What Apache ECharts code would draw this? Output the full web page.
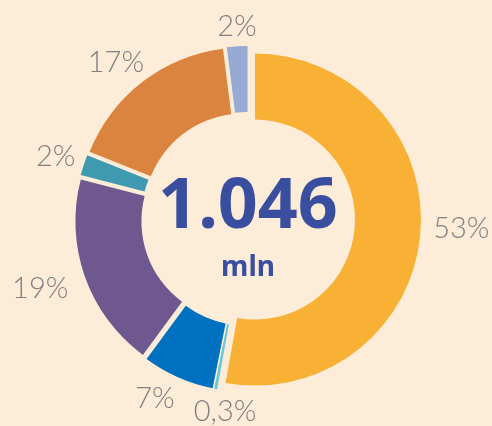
<!DOCTYPE html>
<html>
<head>
<meta charset="utf-8">
<script src="https://cdn.jsdelivr.net/npm/echarts@6/dist/echarts.min.js"></script>
<style>
  html, body { margin: 0; padding: 0; background: #FDECD8; }
  #chart { width: 492px; height: 426px; }
</style>
</head>
<body>
<div id="chart"></div>
<script>
// ---- data ----
const categories = ['Segment A', 'Segment B', 'Segment C', 'Segment D', 'Segment E', 'Segment F', 'Segment G'];
const values = [53, 0.3, 7, 19, 2, 17, 2];
const colors = ['#F8B134', '#6CC6DA', '#0070C0', '#6F578F', '#3F9AB1', '#DB843F', '#97AAD3'];
const totalValue = '1.046';
const totalUnit = 'mln';

// ---- layout ----
const CX = 248, CY = 219, R_IN = 100, R_OUT = 166, LABEL_R = 188, EXPLODE = 7;
const BG = '#FDECD8', TRANSPARENT = 'rgba(0,0,0,0)';
const sum = values.reduce((a, b) => a + b, 0);
const midAngles = [];
let acc = 0;
values.forEach(v => { midAngles.push((acc + v / 2) / sum * 2 * Math.PI); acc += v; });
const nudge = { 0: [-2, -8], 1: [18, -2], 2: [-9, -2], 3: [-4, 4], 4: [5, 0], 6: [2, 5] };

const baseSeries = {
  type: 'pie',
  radius: [R_IN, R_OUT],
  startAngle: 90,
  clockwise: true,
  silent: true,
  avoidLabelOverlap: false,
  labelLine: { show: false },
  emphasis: { disabled: true }
};

// one exploded series per slice: only slice i is painted, the others are transparent
const sliceSeries = values.map((_, i) => Object.assign({}, baseSeries, {
  center: [CX + EXPLODE * Math.sin(midAngles[i]), CY - EXPLODE * Math.cos(midAngles[i])],
  label: { show: false },
  data: values.map((v, j) => ({
    name: categories[j],
    value: v,
    itemStyle: { color: j === i ? colors[j] : TRANSPARENT }
  }))
}));

// label series (unexploded, transparent)
const labelSeries = Object.assign({}, baseSeries, {
  center: [CX, CY],
  label: {
    show: true,
    position: 'outside',
    formatter: p => String(p.value).replace('.', ',') + '%',
    color: '#808080',
    fontFamily: 'Lato, sans-serif',
    fontWeight: 300,
    fontSize: 29
  },
  labelLayout: function (params) {
    const i = params.dataIndex;
    const a = midAngles[i];
    const dx = Math.sin(a), dy = -Math.cos(a);
    const w = params.labelRect.width, h = params.labelRect.height * 0.7;
    const n = nudge[i] || [0, 0];
    return {
      x: CX + dx * LABEL_R + dx * w / 2 + n[0],
      y: CY + dy * LABEL_R + dy * h / 2 + n[1],
      align: 'center',
      verticalAlign: 'middle'
    };
  },
  data: values.map((v, j) => ({ name: categories[j], value: v, itemStyle: { color: TRANSPARENT } }))
});

const chart = echarts.init(document.getElementById('chart'), null, { renderer: 'canvas' });
chart.setOption({
  animation: false,
  backgroundColor: BG,
  series: sliceSeries.concat([labelSeries]),
  graphic: [
    {
      type: 'text',
      style: {
        text: totalValue,
        x: CX, y: 208,
        align: 'center', verticalAlign: 'middle',
        fill: '#3A4EA0',
        font: 'bold 70px "Noto Sans", sans-serif'
      }
    },
    {
      type: 'text',
      style: {
        text: totalUnit,
        x: CX, y: 268,
        align: 'center', verticalAlign: 'middle',
        fill: '#3A4EA0',
        font: 'bold 28px "Noto Sans", sans-serif'
      }
    }
  ]
});
</script>
</body>
</html>
